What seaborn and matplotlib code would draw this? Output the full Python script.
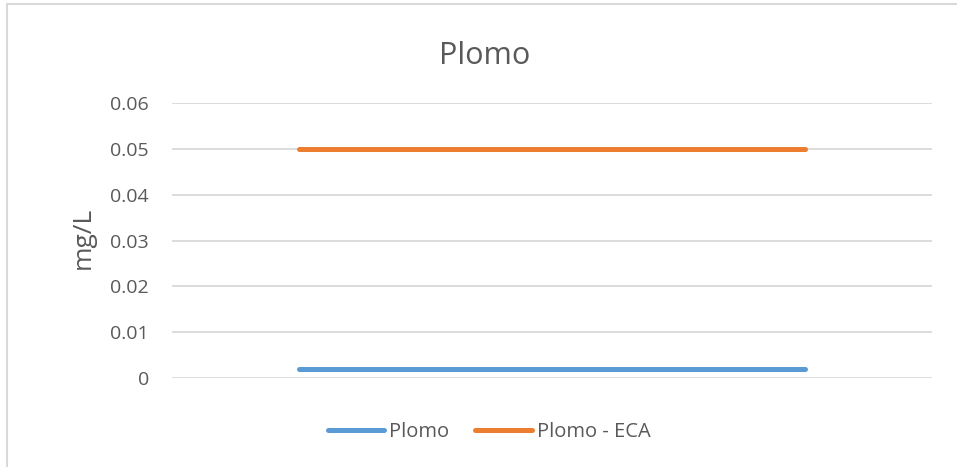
import matplotlib
matplotlib.use("Agg")
import matplotlib.pyplot as plt
from matplotlib.lines import Line2D
import pandas as pd
import seaborn as sns

# Sampling points (three monitoring points, unlabeled on the axis)
categories = [1, 2, 3]
plomo = [0.002, 0.002, 0.002]
plomo_eca = [0.05, 0.05, 0.05]
series_names = ["Plomo", "Plomo - ECA"]
y_ticks = [0, 0.01, 0.02, 0.03, 0.04, 0.05, 0.06]
y_tick_labels = ["0", "0.01", "0.02", "0.03", "0.04", "0.05", "0.06"]

df = pd.DataFrame({
    "punto": categories * 2,
    "valor": plomo + plomo_eca,
    "serie": [series_names[0]] * len(categories) + [series_names[1]] * len(categories),
})

sns.set_theme(style="white")
plt.rcParams["font.family"] = ["Open Sans", "DejaVu Sans"]

text_color = "#595959"
grid_color = "#d9d9d9"

fig = plt.figure(figsize=(9.57, 4.67), dpi=100)
ax = fig.add_axes([172 / 957, 1 - 378 / 467, (932 - 172) / 957, (378 - 103) / 467])

sns.lineplot(
    data=df, x="punto", y="valor", hue="serie",
    palette={"Plomo": "#5b9bd5", "Plomo - ECA": "#ed7d31"},
    linewidth=3.6, ax=ax, legend=False, zorder=3,
)
for ln in ax.lines:
    ln.set_solid_capstyle("round")

ax.set_xlim(0.5, 3.5)
ax.set_ylim(0, 0.06)
ax.set_yticks(y_ticks)
ax.set_yticklabels(y_tick_labels)
ax.set_xticks([])
ax.set_xlabel("")
ax.set_ylabel("")
ax.tick_params(axis="y", length=0, pad=16.5, labelsize=14, labelcolor=text_color)
for v in y_ticks:
    ax.axhline(v, color=grid_color, linewidth=1.3, zorder=1)
for s in ax.spines.values():
    s.set_visible(False)

fig.text(485 / 957, 1 - 56 / 467, "Plomo", ha="center", va="center",
         fontsize=22, color=text_color)
fig.text(83 / 957, 1 - 238 / 467, "mg/L", ha="center", va="center",
         rotation=90, fontsize=19, color=text_color)

handles = [
    Line2D([], [], color="#5b9bd5", linewidth=3.6, solid_capstyle="round"),
    Line2D([], [], color="#ed7d31", linewidth=3.6, solid_capstyle="round"),
]
leg = fig.legend(handles, series_names, loc="center", ncol=2,
                 bbox_to_anchor=(489 / 957, 1 - 432 / 467), frameon=False,
                 fontsize=14.5, handlelength=2.8, handletextpad=0.25,
                 columnspacing=1.3, borderaxespad=0)
for t in leg.get_texts():
    t.set_color(text_color)

# Chart-area frame (left and top edges)
fig.add_artist(Line2D([7 / 957, 7 / 957], [0, 1 - 4 / 467], transform=fig.transFigure,
                      color=grid_color, linewidth=1.5))
fig.add_artist(Line2D([7 / 957, 1], [1 - 4 / 467, 1 - 4 / 467], transform=fig.transFigure,
                      color=grid_color, linewidth=1.5))

fig.savefig("out.png", dpi=100, facecolor="white")
